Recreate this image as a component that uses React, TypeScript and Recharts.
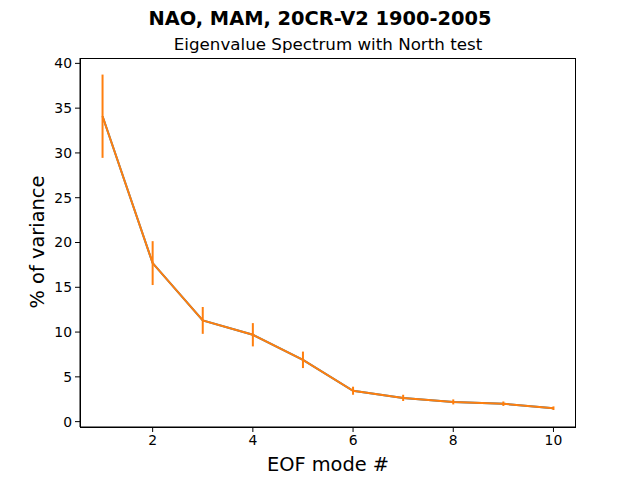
import { ComposedChart, Line, XAxis, YAxis, ErrorBar } from "recharts";

const modes = [1, 2, 3, 4, 5, 6, 7, 8, 9, 10];
const variance = [34.1, 17.7, 11.3, 9.7, 6.9, 3.45, 2.65, 2.2, 2.0, 1.5];
const northErr = [4.65, 2.45, 1.5, 1.3, 0.92, 0.45, 0.35, 0.28, 0.25, 0.2];
const xTicks = [2, 4, 6, 8, 10];
const yTicks = [0, 5, 10, 15, 20, 25, 30, 35, 40];

const data = modes.map((m, i) => ({ mode: m, pct: variance[i], err: northErr[i] }));

const font = "'DejaVu Sans', sans-serif";

export default function App() {
  return (
    <div style={{ position: "absolute", left: 0, top: 0, width: 640, height: 480, background: "#fff", fontFamily: font }}>
      <ComposedChart
        width={640}
        height={480}
        data={data}
        margin={{ top: 58, right: 64, bottom: 22, left: 30 }}
      >
        <XAxis
          dataKey="mode"
          type="number"
          domain={[0.55, 10.45]}
          ticks={xTicks}
          height={31}
          tickSize={5}
          tickMargin={3}
          stroke="#000"
          tick={{ fill: "#000", fontSize: 13.9, fontFamily: font }}
        />
        <YAxis
          type="number"
          domain={[-0.6, 40.6]}
          ticks={yTicks}
          width={50}
          tickSize={5}
          tickMargin={3}
          stroke="#000"
          tick={{ fill: "#000", fontSize: 13.9, fontFamily: font }}
        />
        <Line
          dataKey="pct"
          stroke="#1f77b4"
          strokeWidth={2}
          dot={false}
          activeDot={false}
          isAnimationActive={false}
        />
        <Line
          dataKey="pct"
          stroke="#ff7f0e"
          strokeWidth={2}
          dot={false}
          activeDot={false}
          isAnimationActive={false}
        >
          <ErrorBar dataKey="err" direction="y" width={0} stroke="#ff7f0e" strokeWidth={2} />
        </Line>
      </ComposedChart>
      <div
        style={{
          position: "absolute",
          left: 80,
          top: 58,
          width: 496,
          height: 370,
          boxSizing: "border-box",
          border: "1px solid #000",
          pointerEvents: "none",
        }}
      />
      <div style={{ position: "absolute", left: 0, width: 640, top: 7, textAlign: "center", fontSize: 19.4, fontWeight: "bold" }}>
        NAO, MAM, 20CR-V2 1900-2005
      </div>
      <div style={{ position: "absolute", left: 80, width: 496, top: 34, textAlign: "center", fontSize: 16.7 }}>
        Eigenvalue Spectrum with North test
      </div>
      <div style={{ position: "absolute", left: 80, width: 496, top: 453, textAlign: "center", fontSize: 19.4 }}>
        EOF mode #
      </div>
      <div
        style={{
          position: "absolute",
          left: 37,
          top: 242,
          transform: "translate(-50%, -50%) rotate(-90deg)",
          whiteSpace: "nowrap",
          fontSize: 19.4,
        }}
      >
        % of variance
      </div>
    </div>
  );
}
